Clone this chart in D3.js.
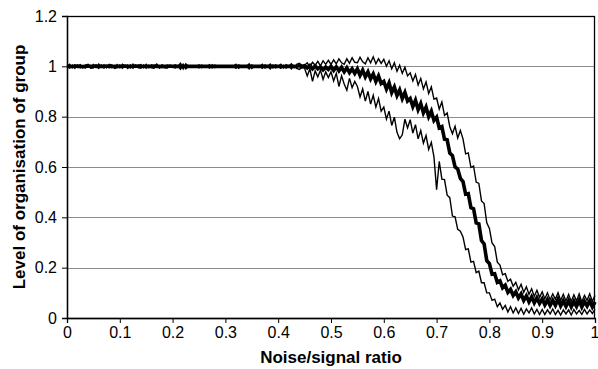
<!DOCTYPE html>
<html>
<head>
<meta charset="utf-8">
<script src="https://cdn.jsdelivr.net/npm/d3@7"></script>
<style>
  html, body { margin: 0; padding: 0; background: #fff; }
  svg { display: block; }
</style>
</head>
<body>
<div id="chart"></div>
<script>
const STEP = 0.005;

const upper = [
  1, 1.008, 0.995, 1.006, 1, 1.007, 0.994, 1.005, 1.008, 0.996,
  1.007, 0.995, 1.009, 1, 1.006, 0.994, 1.008, 1.004, 0.995, 1.007,
  0.995, 1.008, 1, 1.006, 0.994, 1.009, 0.996, 1.005, 1.007, 0.995,
  1.008, 0.996, 1.006, 1, 1.009, 0.995, 1.007, 1, 1.005, 0.996,
  1, 1.006, 1, 1.012, 0.99, 1.01, 1, 1, 1, 1,
  1.006, 0.995, 1, 1, 1.007, 0.994, 1.005, 1, 1, 1,
  1, 1, 1, 1, 1.008, 0.992, 1, 1, 1, 1.01,
  0.992, 1, 1, 1, 1.008, 0.993, 1, 1.009, 0.994, 1.006,
  1, 1.008, 0.994, 1.007, 1, 1.01, 0.996, 1.008, 1.012, 1.004,
  1.004, 1.014, 0.998, 1.016, 1.004, 1.02, 1.002, 1.022, 1.008, 1.024,
  1.008, 1.026, 1.01, 1.03, 1.014, 1.008, 1.03, 1.012, 1.034, 1.016,
  1.014, 1.036, 1.018, 1.01, 1.034, 1.014, 1.038, 1.01, 1.03, 1.012,
  1.028, 1.0, 1.022, 0.99, 1.014, 0.98, 1.004, 0.972, 0.996, 0.962,
  0.974, 0.942, 0.968, 0.926, 0.952, 0.91, 0.938, 0.892, 0.918, 0.87,
  0.874, 0.83, 0.858, 0.805, 0.815, 0.76, 0.732, 0.762, 0.715, 0.745,
  0.712, 0.652, 0.656, 0.598, 0.604, 0.54, 0.535, 0.465, 0.455, 0.378,
  0.356, 0.298, 0.284, 0.222, 0.21, 0.172, 0.176, 0.146, 0.154, 0.126,
  0.142, 0.112, 0.134, 0.102, 0.124, 0.094, 0.116, 0.086, 0.11, 0.082,
  0.104, 0.076, 0.1, 0.072, 0.096, 0.074, 0.1, 0.07, 0.094, 0.068,
  0.094, 0.066, 0.092, 0.068, 0.096, 0.064, 0.09, 0.07, 0.096, 0.066,
  0.09
];

const mean = [
  1, 1, 0.999, 1.001, 1, 1, 0.999, 1, 1.001, 1,
  1, 1.001, 0.999, 1, 1, 1.001, 1, 0.999, 1, 1,
  1, 1, 1.001, 0.999, 1, 1, 1.001, 1, 0.999, 1,
  1, 0.999, 1, 1.001, 1, 1, 0.999, 1, 1, 1.001,
  1, 1, 1, 1, 1, 1, 1, 1, 1, 1,
  1, 1, 1, 1, 1, 1, 1, 1, 1, 1,
  1, 1, 1, 1, 1, 1, 1, 1, 1, 1,
  1, 1, 1, 1, 1, 1, 1, 1, 1, 1,
  1, 1, 0.999, 1, 1, 1.001, 0.999, 1, 1.002, 0.999,
  1.002, 0.994, 1.003, 0.99, 1.001, 0.99, 0.998, 0.986, 0.997, 0.988,
  1.0, 0.984, 0.998, 0.982, 0.996, 0.978, 0.994, 0.975, 0.99, 0.972,
  0.99, 0.964, 0.985, 0.958, 0.978, 0.95, 0.97, 0.94, 0.962, 0.932,
  0.94, 0.91, 0.934, 0.896, 0.918, 0.884, 0.906, 0.872, 0.896, 0.862,
  0.872, 0.84, 0.865, 0.828, 0.852, 0.815, 0.838, 0.8, 0.822, 0.785,
  0.798, 0.755, 0.76, 0.71, 0.708, 0.655, 0.645, 0.6, 0.592, 0.555,
  0.542, 0.492, 0.494, 0.438, 0.434, 0.378, 0.374, 0.308, 0.294, 0.228,
  0.216, 0.174, 0.176, 0.142, 0.148, 0.12, 0.13, 0.102, 0.114, 0.09,
  0.104, 0.08, 0.096, 0.07, 0.088, 0.064, 0.084, 0.06, 0.08, 0.058,
  0.076, 0.052, 0.072, 0.05, 0.07, 0.05, 0.074, 0.048, 0.068, 0.046,
  0.068, 0.044, 0.066, 0.046, 0.07, 0.044, 0.066, 0.048, 0.068, 0.044,
  0.064
];

const lower = [
  1, 0.993, 1.005, 0.992, 1.006, 0.994, 1, 0.993, 1.004, 0.992,
  0.994, 1.006, 0.992, 1.005, 0.993, 1, 0.994, 1.006, 0.992, 0.995,
  1.005, 0.993, 1.004, 0.992, 1.006, 0.993, 1.005, 0.994, 0.993, 1.005,
  0.993, 1.005, 0.994, 0.992, 1.004, 0.993, 1, 0.994, 0.993, 1.004,
  1, 0.994, 1, 0.988, 1.008, 0.99, 1, 1, 1, 1,
  0.994, 1.005, 1, 1, 0.993, 1.006, 0.995, 1, 1, 1,
  1, 1, 1, 1, 0.992, 1.006, 1, 1, 1, 0.99,
  1.006, 1, 1, 1, 0.992, 1.006, 1, 0.99, 1.005, 0.994,
  1, 0.992, 1.004, 0.993, 1, 0.99, 1.004, 0.992, 0.988, 0.995,
  0.992, 0.962, 0.99, 0.94, 0.982, 0.958, 0.985, 0.948, 0.978, 0.955,
  0.978, 0.942, 0.972, 0.92, 0.962, 0.93, 0.905, 0.952, 0.915, 0.94,
  0.92, 0.878, 0.91, 0.862, 0.9, 0.85, 0.885, 0.838, 0.872, 0.822,
  0.838, 0.79, 0.822, 0.765, 0.798, 0.738, 0.712, 0.728, 0.79, 0.755,
  0.788, 0.735, 0.768, 0.712, 0.745, 0.695, 0.725, 0.67, 0.698, 0.64,
  0.51, 0.622, 0.552, 0.55, 0.488, 0.478, 0.405, 0.402, 0.352, 0.345,
  0.322, 0.272, 0.275, 0.222, 0.225, 0.18, 0.186, 0.14, 0.14, 0.1,
  0.1, 0.07, 0.075, 0.045, 0.06, 0.035, 0.05, 0.024, 0.045, 0.02,
  0.04, 0.018, 0.038, 0.015, 0.036, 0.02, 0.04, 0.016, 0.034, 0.014,
  0.034, 0.014, 0.032, 0.016, 0.036, 0.014, 0.03, 0.012, 0.032, 0.016,
  0.032, 0.012, 0.034, 0.016, 0.03, 0.014, 0.034, 0.016, 0.032, 0.018,
  0.034
];

const xTicks = [0, 0.1, 0.2, 0.3, 0.4, 0.5, 0.6, 0.7, 0.8, 0.9, 1];
const yTicks = [0, 0.2, 0.4, 0.6, 0.8, 1, 1.2];
const yGrid  = [0.2, 0.4, 0.6, 0.8, 1];

const SERIES = [
  { name: 'upper', values: upper, width: 1.4 },
  { name: 'lower', values: lower, width: 1.4 },
  { name: 'mean',  values: mean,  width: 3.6 },
];

const totalW = 598, totalH = 369;
const margin = { top: 16, right: 3, bottom: 51, left: 67 };
const width  = totalW - margin.left - margin.right;
const height = totalH - margin.top - margin.bottom;
const FONT = 'Arial, "Liberation Sans", sans-serif';

const svg = d3.select('#chart')
  .append('svg')
  .attr('width', totalW)
  .attr('height', totalH);

const g = svg.append('g')
  .attr('transform', `translate(${margin.left},${margin.top})`);

const x = d3.scaleLinear().domain([0, 1]).range([0, width]);
const y = d3.scaleLinear().domain([0, 1.2]).range([height, 0]);

// gridlines
g.selectAll('.grid')
  .data(yGrid)
  .join('line')
  .attr('class', 'grid')
  .attr('x1', 0).attr('x2', width)
  .attr('y1', d => Math.round(y(d)) + 0.5)
  .attr('y2', d => Math.round(y(d)) + 0.5)
  .attr('stroke', '#8c8c8c')
  .attr('stroke-width', 1);

const line = d3.line()
  .x((d, i) => x(i * STEP))
  .y(d => y(d));

g.selectAll('.series')
  .data(SERIES)
  .join('path')
  .attr('class', 'series')
  .attr('fill', 'none')
  .attr('stroke', '#000')
  .attr('stroke-width', d => d.width)
  .attr('stroke-linejoin', 'miter')
  .attr('d', d => line(d.values));

// plot frame (top + right)
g.append('rect')
  .attr('x', 0.5).attr('y', 0.5)
  .attr('width', width - 1).attr('height', height)
  .attr('fill', 'none')
  .attr('stroke', '#000')
  .attr('stroke-width', 1.3);

const xAxis = g.append('g')
  .attr('transform', `translate(0,${height})`)
  .call(d3.axisBottom(x).tickValues(xTicks).tickSize(5).tickPadding(4)
    .tickFormat(d3.format('~g')));

const yAxis = g.append('g')
  .call(d3.axisLeft(y).tickValues(yTicks).tickSize(5).tickPadding(5)
    .tickFormat(d3.format('~g')));

[xAxis, yAxis].forEach(ax => {
  ax.select('.domain').attr('stroke', '#000').attr('stroke-width', 1.3);
  ax.selectAll('.tick line').attr('stroke', '#000');
  ax.selectAll('text')
    .attr('fill', '#000')
    .attr('font-size', 16)
    .attr('font-family', FONT);
});

// keep the last x label inside the window
xAxis.selectAll('.tick text')
  .filter(d => d === 1)
  .attr('text-anchor', 'end')
  .attr('dx', 4);

svg.append('text')
  .attr('x', margin.left + width / 2)
  .attr('y', 363)
  .attr('text-anchor', 'middle')
  .attr('font-size', 17)
  .attr('font-weight', 'bold')
  .attr('font-family', FONT)
  .text('Noise/signal ratio');

svg.append('text')
  .attr('transform', `translate(25,${margin.top + height / 2}) rotate(-90)`)
  .attr('text-anchor', 'middle')
  .attr('font-size', 17)
  .attr('font-weight', 'bold')
  .attr('font-family', FONT)
  .text('Level of organisation of group');
</script>
</body>
</html>
